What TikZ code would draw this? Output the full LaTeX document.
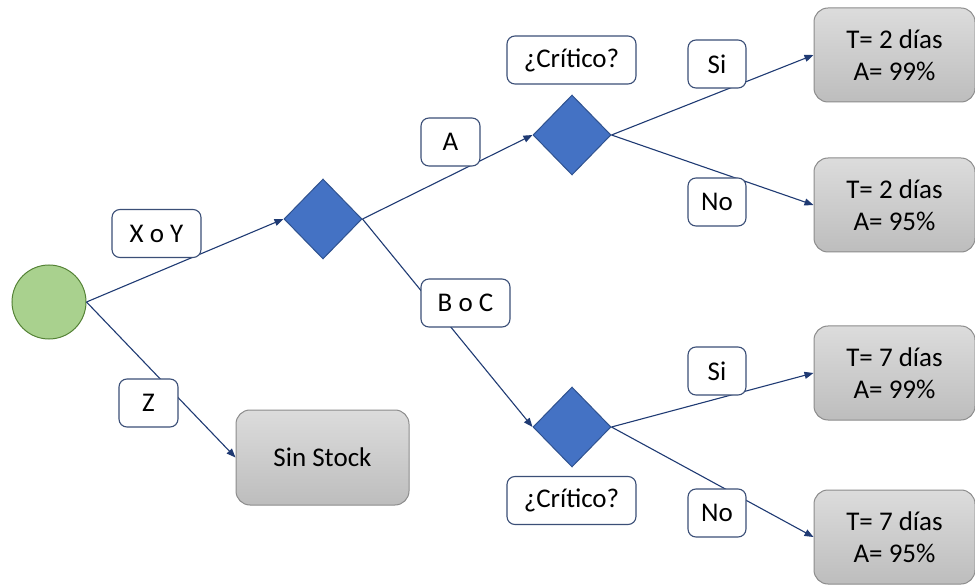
\documentclass[tikz,border=0pt]{standalone}
\usepackage{fontspec}
\setmainfont{Carlito}
\usetikzlibrary{shapes.geometric,arrows.meta}
\definecolor{navy}{HTML}{1F3A73}
\definecolor{lblborder}{HTML}{3B4F77}
\definecolor{decfill}{HTML}{4472C4}
\definecolor{decborder}{HTML}{2F528F}
\definecolor{startfill}{HTML}{A9D18E}
\definecolor{startborder}{HTML}{548235}
\definecolor{outtop}{HTML}{DCDCDC}
\definecolor{outbot}{HTML}{BDBDBD}
\definecolor{outborder}{HTML}{8C8C8C}
\tikzset{
  startnode/.style={circle, draw=startborder, fill=startfill, line width=1pt, minimum size=74pt, inner sep=0pt},
  decision/.style={diamond, draw=decborder, fill=decfill, line width=1pt, minimum width=78pt, minimum height=80pt, inner sep=0pt},
  outcome/.style={rounded corners=14pt, draw=outborder, line width=1pt, top color=outtop, bottom color=outbot,
    minimum width=161pt, minimum height=94pt, align=center, font=\fontsize{27}{32}\selectfont},
  tag/.style={rounded corners=8pt, draw=lblborder, fill=white, line width=1.1pt, minimum height=48pt,
    inner sep=0pt, font=\fontsize{27}{32}\selectfont},
  link/.style={draw=navy, line width=1.1pt, -{Triangle[length=9pt,width=7pt]}},
}
\begin{document}
\begin{tikzpicture}[x=1pt, y=-1pt]
  \useasboundingbox (0,0) rectangle (975,585);
  % main nodes
  \node[startnode] (start) at (49,302) {};
  \node[decision] (d1) at (323,219) {};
  \node[decision] (d2) at (572,135) {};
  \node[decision] (d3) at (572,427) {};
  \node[outcome] (o1) at (894.5,55) {T= 2 días\\A= 99\%};
  \node[outcome] (o2) at (894.5,205) {T= 2 días\\A= 95\%};
  \node[outcome] (o3) at (894.5,373) {T= 7 días\\A= 99\%};
  \node[outcome] (o4) at (894.5,537) {T= 7 días\\A= 95\%};
  \node[outcome, minimum width=173pt, minimum height=95pt] (nostock) at (322.5,457.5) {Sin Stock};
  % branches
  \draw[link] (start.east) -- (d1.west);
  \draw[link] (start.east) -- (nostock.west);
  \draw[link] (d1.east) -- (d2.west);
  \draw[link] (d1.east) -- (d3.west);
  \draw[link] (d2.east) -- (o1.west);
  \draw[link] (d2.east) -- (o2.west);
  \draw[link] (d3.east) -- (o3.west);
  \draw[link] (d3.east) -- (o4.west);
  % branch labels
  \node[tag, minimum width=89pt] (lxy) at (156.5,233.5) {X o Y};
  \node[tag, minimum width=59pt] (lz) at (148.5,403) {Z};
  \node[tag, minimum width=59pt] (la) at (450.5,142) {A};
  \node[tag, minimum width=89pt] (lbc) at (465.5,303) {B o C};
  \node[tag, minimum width=129pt] (q1) at (571.5,60) {¿Crítico?};
  \node[tag, minimum width=129pt] (q2) at (571.5,500.5) {¿Crítico?};
  \node[tag, minimum width=58pt] (s1) at (717,64) {Si};
  \node[tag, minimum width=58pt] (n1) at (717,202) {No};
  \node[tag, minimum width=58pt] (s2) at (717,371) {Si};
  \node[tag, minimum width=58pt] (n2) at (717,513) {No};
\end{tikzpicture}
\end{document}
